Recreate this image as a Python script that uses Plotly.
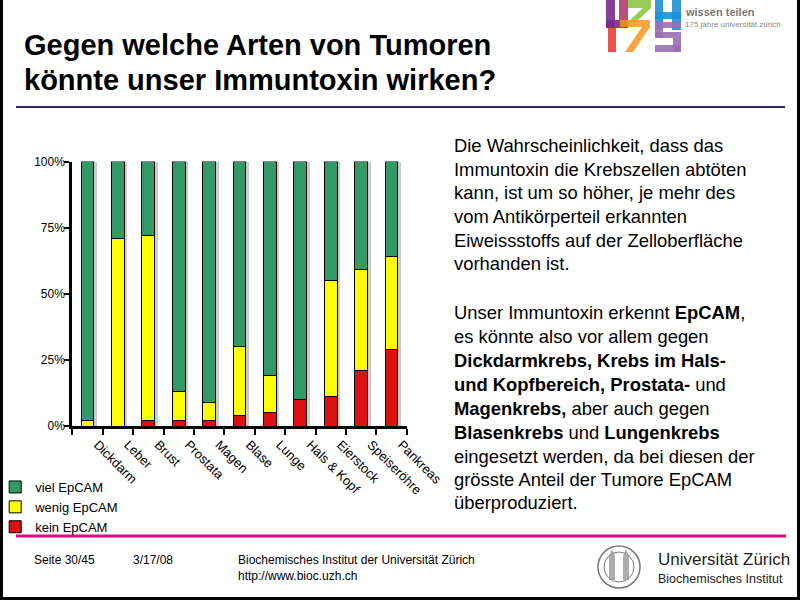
import plotly.graph_objects as go

# ---------------- data ----------------
categories = ["Dickdarm", "Leber", "Brust", "Prostata", "Magen", "Blase",
              "Lunge", "Hals & Kopf", "Eierstock", "Speiseröhre", "Pankreas"]
kein_epcam = [0, 0, 2, 2, 2, 4, 5, 10, 11, 21, 29]
wenig_epcam = [2, 71, 70, 11, 7, 26, 14, 0, 44, 38, 35]
viel_epcam = [98, 29, 28, 87, 91, 70, 81, 90, 45, 41, 36]
y_tick_vals = [0, 25, 50, 75, 100]
y_tick_text = ["0%", "25%", "50%", "75%", "100%"]

W, H = 800, 600
FONT = "Liberation Sans, Arial, sans-serif"


def px(x):
    return x / W


def py(y):
    return 1 - y / H


fig = go.Figure()

# drop shadow behind the bars (total column height), on a base axis shifted slightly
totals = [a + b + c for a, b, c in zip(kein_epcam, wenig_epcam, viel_epcam)]
fig.add_trace(go.Bar(x=categories, y=totals, width=0.42, xaxis="x", yaxis="y",
                     marker=dict(color="#CCCCCC", line=dict(width=0)),
                     showlegend=False, hoverinfo="skip"))

series = [("kein EpCAM", kein_epcam, "#DD1111"),
          ("wenig EpCAM", wenig_epcam, "#FFFF00"),
          ("viel EpCAM", viel_epcam, "#339966")]
for name, vals, col in series:
    fig.add_trace(go.Bar(
        x=categories, y=vals, name=name, width=0.42, xaxis="x2", yaxis="y",
        marker=dict(color=col, line=dict(color="black", width=1)),
    ))

XDOM = [px(72.3), px(406.7)]
fig.update_layout(
    width=W, height=H,
    margin=dict(l=0, r=0, t=0, b=0, autoexpand=False),
    paper_bgcolor="white", plot_bgcolor="white",
    barmode="stack", bargap=0,
    font=dict(family=FONT, color="black"),
    showlegend=True,
    legend=dict(orientation="v", traceorder="reversed",
                x=-0.006, xanchor="left", y=py(472), yanchor="top",
                font=dict(size=13, family=FONT), bgcolor="rgba(0,0,0,0)",
                itemwidth=30, tracegroupgap=0),
    xaxis=dict(domain=XDOM, type="category", range=[-0.6, 10.4],
               visible=False, fixedrange=True),
    xaxis2=dict(overlaying="x", type="category", range=[-0.5, 10.5],
                side="bottom", anchor="y",
                showline=True, linecolor="black", linewidth=3,
                ticks="outside", tickson="boundaries", ticklen=6, tickwidth=2,
                tickcolor="black", tickangle=45, tickfont=dict(size=13),
                ticklabelshift=10, ticklabelstandoff=3,
                showgrid=False, zeroline=False, fixedrange=True),
    yaxis=dict(domain=[py(426), py(161.5)], range=[0, 100],
               tickvals=y_tick_vals, ticktext=y_tick_text,
               showline=True, linecolor="black", linewidth=3,
               ticks="outside", ticklen=5, tickwidth=2, tickcolor="black",
               tickfont=dict(size=12), ticklabelstandoff=-3,
               showgrid=False, zeroline=False, fixedrange=True),
)

shapes = []
ann = []


def hline(x0, x1, y, color, w):
    shapes.append(dict(type="line", xref="paper", yref="paper",
                       x0=px(x0), x1=px(x1), y0=py(y), y1=py(y),
                       line=dict(color=color, width=w)))


def rect(x0, y0, x1, y1, color, op=0.9):
    shapes.append(dict(type="rect", xref="paper", yref="paper",
                       x0=px(x0), x1=px(x1), y0=py(y0), y1=py(y1),
                       fillcolor=color, opacity=op, line=dict(width=0)))


def poly(points, color, op=0.9):
    path = "M " + " L ".join(f"{px(x)},{py(y)}" for x, y in points) + " Z"
    shapes.append(dict(type="path", xref="paper", yref="paper", path=path,
                       fillcolor=color, opacity=op, line=dict(width=0)))


def text(x, y, s, size, color="black", xanchor="left", family=FONT):
    ann.append(dict(x=px(x), y=py(y), xref="paper", yref="paper", text=s,
                    showarrow=False, xanchor=xanchor, yanchor="middle",
                    font=dict(size=size, color=color, family=family),
                    align="left"))


# frame
shapes.append(dict(type="line", xref="paper", yref="paper", x0=px(1.5), x1=px(1.5),
                   y0=0, y1=1, line=dict(color="black", width=3)))
shapes.append(dict(type="line", xref="paper", yref="paper", x0=px(798.5), x1=px(798.5),
                   y0=0, y1=1, line=dict(color="black", width=3)))
hline(0, 800, 598.5, "black", 3)

# header / footer rules
hline(16, 785, 107, "#2A2468", 2)
hline(16, 786, 536, "#E6007E", 3)

# title
text(22, 45, "<b>Gegen welche Arten von Tumoren</b>", 29)
text(22, 80, "<b>könnte unser Immuntoxin wirken?</b>", 29)

# body text
body = [
    (145, "Die Wahrscheinlichkeit, dass das"),
    (169, "Immuntoxin die Krebszellen abtöten"),
    (192, "kann, ist um so höher, je mehr des"),
    (216, "vom Antikörperteil erkannten"),
    (240, "Eiweissstoffs auf der Zelloberfläche"),
    (264, "vorhanden ist."),
    (312, "Unser Immuntoxin erkennt <b>EpCAM</b>,"),
    (336, "es könnte also vor allem gegen"),
    (360, "<b>Dickdarmkrebs, Krebs im Hals-</b>"),
    (384, "<b>und Kopfbereich, Prostata-</b> und"),
    (408, "<b>Magenkrebs,</b> aber auch gegen"),
    (432, "<b>Blasenkrebs</b> und <b>Lungenkrebs</b>"),
    (456, "eingesetzt werden, da bei diesen der"),
    (479, "grösste Anteil der Tumore EpCAM"),
    (502, "überproduziert."),
]
for yy, s in body:
    text(452, yy, s, 18.4)

# footer
text(32, 560, "Seite 30/45", 12)
text(131, 560, "3/17/08", 12)
text(236, 560, "Biochemisches Institut der Universität Zürich", 12)
text(236, 576, "http://www.bioc.uzh.ch", 12)
text(656, 559, "Universität Zürich", 17, "#222")
text(656, 579, "Biochemisches Institut", 12.5, "#222")

# seal
for r, wdt in ((21, 1.5), (15, 1)):
    shapes.append(dict(type="circle", xref="paper", yref="paper",
                       x0=px(619 - r), x1=px(619 + r), y0=py(567 - r), y1=py(567 + r),
                       line=dict(color="#777", width=wdt)))
for xx in (612, 626):
    rect(xx - 3, 556, xx + 3, 580, "#999", 0.8)
    poly([(xx - 3, 556), (xx + 3, 556), (xx, 549)], "#999", 0.8)

# UZH 175 logo
rect(606, 0, 615, 28, "#7B2A8E")
rect(606, 20, 628, 28, "#7B2A8E")
rect(619, 0, 628, 28, "#B0306A", 0.85)
rect(628, 0, 651, 8, "#8DC63F")
poly([(643, 8), (651, 8), (636, 22), (628, 22)], "#8DC63F")
rect(655, 0, 663, 30, "#1E90D6")
rect(672, 0, 681, 30, "#1E90D6")
rect(655, 12, 681, 19, "#1E90D6")
rect(608, 28, 616, 52, "#E8413C", 0.9)
rect(620, 20, 650, 27, "#F7941D", 0.85)
poly([(642, 27), (650, 27), (633, 52), (625, 52)], "#F7941D", 0.85)
rect(655, 22, 681, 28, "#9B6FB5", 0.9)
rect(655, 28, 663, 38, "#9B6FB5", 0.9)
rect(655, 32, 681, 38, "#9B6FB5", 0.9)
rect(673, 38, 681, 52, "#9B6FB5", 0.9)
rect(655, 45, 681, 52, "#9B6FB5", 0.9)
text(683, 12, "<b>wissen teilen</b>", 11, "#777")
text(683, 24, "175 jahre universität zürich", 8, "#888")

fig.update_layout(shapes=shapes, annotations=ann)
fig.write_html("out.html",
               config={"displayModeBar": False, "staticPlot": True},
               post_script="document.body.style.margin='0px';"
                           "document.body.style.overflow='hidden';")
